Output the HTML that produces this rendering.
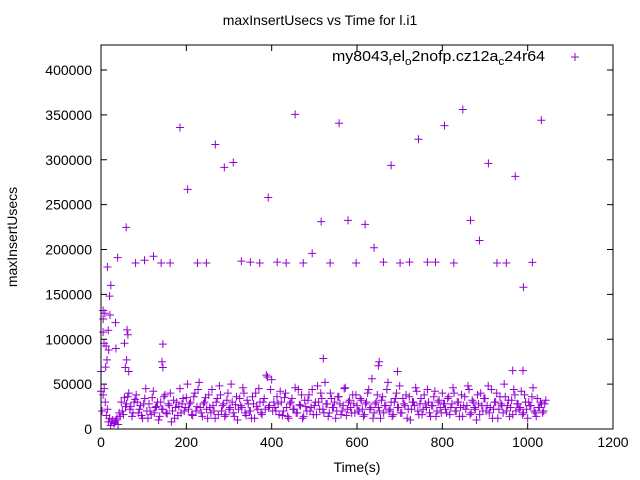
<!DOCTYPE html>
<html><head><meta charset="utf-8"><style>
body{margin:0;background:#fff}
svg{display:block;font-family:"Liberation Sans",sans-serif}
</style></head><body>
<svg id="chart" width="640" height="480" viewBox="0 0 640 480">
<rect width="640" height="480" fill="#fff"/>
<text x="320" y="25" font-size="14" text-anchor="middle">maxInsertUsecs vs Time for l.i1</text>
<text transform="translate(17,237) rotate(-90)" font-size="14" text-anchor="middle">maxInsertUsecs</text>
<text x="357" y="472" font-size="14" text-anchor="middle">Time(s)</text>
<g id="axes"></g>
<g id="pts"></g>
<rect x="101" y="45" width="512" height="384" fill="none" stroke="#000" stroke-width="1"/>
<g>
<text x="332" y="61" font-size="15" textLength="213" lengthAdjust="spacingAndGlyphs">my8043<tspan font-size="11" dy="4">r</tspan><tspan dy="-4">el</tspan><tspan font-size="11" dy="4">o</tspan><tspan dy="-4">2nofp.cz12a</tspan><tspan font-size="11" dy="4">c</tspan><tspan dy="-4">24r64</tspan></text>
<path d="M571,57h8M575,53v8" stroke="#9400d3" stroke-width="1"/>
</g>
</svg>
<script>
const xTicks=[0,200,400,600,800,1000,1200];
const yTicks=[0,50000,100000,150000,200000,250000,300000,350000,400000];
const outT=[185,203,268,289,310,392,455,558,516,579,619,640,495,680,744,805,848,866,887,908,971,990,1032,1011,59,15,39,81,102,123,141,162,226,247,329,350,372,413,434,474,537,598,662,701,723,765,784,827,928,950,23,20,5,9,21,5,34,5,17,7,12,18,35,55,61,63,145,14,11,0,60,57,65,143,145,521,652,650,695,965,989];
const outV=[336000,267000,317000,291500,297000,258000,350600,340600,231000,232500,228000,202000,195700,293800,322800,338000,356000,232500,210000,296000,281500,158000,344000,185700,224700,180500,191000,185000,188000,192500,185000,185000,185000,185000,187000,186000,185000,186000,185000,185000,185000,185000,186000,185000,186000,186000,186000,185000,185000,185000,160000,148000,132000,129000,127000,122500,118500,108000,110000,95500,92500,88000,89700,95500,110500,105000,94500,77000,69000,64000,77000,68500,64000,75000,68500,78500,75000,70500,64000,65000,65000];
const denseA=[42,38,30,22,12,8,6,10,5,14,20,35,28,
40,25,18,33,30,22,15,28,45,12,20,35,18,25,10,30,22,38,17,26,8,32,24,15,45,28,20,35,
22,30,15,40,25,52,18,28,35,12,24,44,20,30,16,38,26,14,32,22,50,18,27,10,34,24,40,15,28,20,36,12,25,45,18,30,22,58,26,55,
30,20,28,42,15,35,24,12,30,22,46,18,27,38,14,25,32,20,44,26,16,30,40,22,52,28,18,34,24,12,36,28,20,45,15,30,24,38,18,26,
20,32,14,28,40,22,56,18,30,24,12,36,26,44,20,30,16,34,24,48,18,28,38,22,10,30,26,42,16,34,22,28,44,18,26,36,14,30,24,40,
28,18,36,24,46,20,30,14,38,26,22,48,16,32,24,10,28,40,20,34,26,18,44,22,30,12,36,26,50,20,32,24,16,38,28,22,42,18,30,12,26,36,20,14,24,30,18,28];
const denseB=[20,45,15,8,4,10,7,12,18,30,16,25,36,
22,14,30,38,18,26,12,34,20,28,16,42,24,30,14,22,36,18,28,40,20,12,30,25,18,34,24,50,
28,16,36,20,44,24,14,30,22,38,18,26,12,34,48,20,28,16,40,24,30,14,36,22,26,46,18,32,20,12,28,40,22,30,16,34,60,24,44,20,
24,36,16,30,20,40,14,28,34,22,18,44,26,12,32,20,38,24,16,30,48,22,34,18,28,14,40,24,30,20,36,16,26,46,22,32,18,28,38,20,
34,22,16,30,44,24,12,28,38,20,32,18,26,52,22,14,30,40,24,18,34,26,12,36,22,30,46,20,28,16,38,24,30,14,26,42,20,32,18,28,
22,34,16,28,40,20,30,24,14,36,26,44,18,30,22,38,16,26,34,20,48,24,12,30,40,22,28,18,36,26,14,32,44,20,28,24,16,38,22,30,26,46,18,34,24,28,20,32];
const denseStep=5;
const NS="http://www.w3.org/2000/svg";
const X=t=>101+t*512/1200;
const Y=v=>429-v*359/400000;
const axes=document.getElementById('axes'),pts=document.getElementById('pts');
function mk(tag,attrs,parent){const e=document.createElementNS(NS,tag);for(const k in attrs)e.setAttribute(k,attrs[k]);parent.appendChild(e);return e;}
xTicks.forEach(t=>{const x=X(t);
 const l=mk('path',{d:`M${x},429v-6M${x},45v6`,stroke:'#000'},axes);
 
 
 const tx=mk('text',{x:x,y:447,'font-size':14,'text-anchor':'middle'},axes);tx.textContent=t;
 
 });
yTicks.forEach(v=>{const y=Y(v);
 const l=mk('path',{d:`M101,${y}h6M613,${y}h-6`,stroke:'#000'},axes);
 
 
 const tx=mk('text',{x:92,y:y+5,'font-size':14,'text-anchor':'end'},axes);tx.textContent=v;
 
 });
function plus(t,v){const x=X(t),y=Y(v);
 const p=mk('path',{d:`M${x-4},${y}h8M${x},${y-4}v8`,stroke:'#9400d3','stroke-width':1},pts);
 
 }
denseA.forEach((v,i)=>plus(i*denseStep,v*1000));
denseB.forEach((v,i)=>plus(i*denseStep+2.5,v*1000));
outT.forEach((t,i)=>plus(t,outV[i]));
</script>
</body></html>
